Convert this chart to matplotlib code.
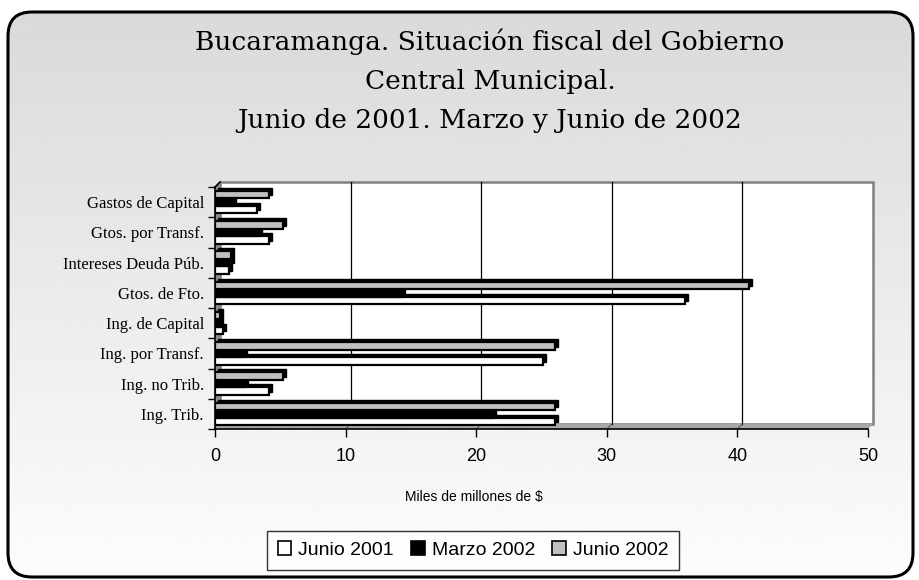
import numpy as np
import matplotlib
matplotlib.use("Agg")
import matplotlib.pyplot as plt
from matplotlib.patches import Rectangle, Polygon, FancyBboxPatch, Patch

# data (miles de millones de $), bottom category first
categorias = ["Ing. Trib.", "Ing. no Trib.", "Ing. por Transf.", "Ing. de Capital",
              "Gtos. de Fto.", "Intereses Deuda Púb.", "Gtos. por Transf.", "Gastos de Capital"]
junio_2001 = [26.0, 4.1, 25.1, 0.6, 36.0, 1.1, 4.1, 3.2]
marzo_2002 = [21.3, 2.3, 2.2, 0.4, 14.3, 1.2, 3.4, 1.4]
junio_2002 = [26.0, 5.2, 26.0, 0.4, 40.9, 1.2, 5.2, 4.1]
series = ["Junio 2001", "Marzo 2002", "Junio 2002"]
colores = ["#ffffff", "#000000", "#c0c0c0"]
titulo = ["Bucaramanga. Situación fiscal del Gobierno",
          "Central Municipal.",
          "Junio de 2001. Marzo y Junio de 2002"]

W, H = 920, 580
fig = plt.figure(figsize=(W / 100, H / 100), dpi=100)
fig.patch.set_facecolor("white")

# background: gradient inside a rounded frame
bg = fig.add_axes([0, 0, 1, 1], zorder=-5)
bg.set_xlim(0, W)
bg.set_ylim(0, H)
bg.axis("off")
grad = np.linspace(0.99, 0.85, 256).reshape(-1, 1)
im = bg.imshow(grad, cmap="gray", vmin=0, vmax=1, extent=[0, W, 0, H],
               origin="lower", aspect="auto")
frame = FancyBboxPatch((8, 3), 905, 565, boxstyle="round,pad=0,rounding_size=24",
                       facecolor="none", edgecolor="black", linewidth=2.2)
bg.add_patch(frame)
im.set_clip_path(frame)

# title
for k, (linea, yb) in enumerate(zip(titulo, [50, 89, 128])):
    fig.text(490 / W, 1 - yb / H, linea, ha="center", va="baseline",
             fontsize=19, family="DejaVu Serif")

# main axes (front plane)
x0, x1, yb0, yt0 = 215, 868, 429, 187
ax = fig.add_axes([x0 / W, 1 - yb0 / H, (x1 - x0) / W, (yb0 - yt0) / H])
ax.set_xlim(0, 50)
ax.set_ylim(-0.5, 7.5)
ax.patch.set_alpha(0)

dx = 50 * 5 / (x1 - x0)
dy = 8 * 5 / (yb0 - yt0)

# walls
ax.add_patch(Rectangle((dx, -0.5 + dy), 50, 8, facecolor="white", edgecolor="#808080",
                       linewidth=1.8, clip_on=False, zorder=0))
ax.add_patch(Polygon([(0, -0.5), (0, 7.5), (dx, 7.5 + dy), (dx, -0.5 + dy)],
                     closed=True, facecolor="#8c8c8c", edgecolor="none", clip_on=False, zorder=0.5))
ax.add_patch(Polygon([(0, -0.5), (50, -0.5), (50 + dx, -0.5 + dy), (dx, -0.5 + dy)],
                     closed=True, facecolor="#a8a8a8", edgecolor="none", clip_on=False, zorder=0.5))
for gx in [10, 20, 30, 40]:
    ax.plot([gx + dx, gx + dx], [-0.5 + dy, 7.5 + dy], color="black", lw=0.9,
            clip_on=False, zorder=0.6)
    ax.plot([gx, gx + dx], [-0.5, -0.5 + dy], color="#606060", lw=0.8,
            clip_on=False, zorder=0.6)
ax.plot([0, dx], [7.5, 7.5 + dy], color="black", lw=1.2, clip_on=False, zorder=0.7)

# bars with a little depth
y = np.arange(len(categorias))
h = 0.25
sx = 50 * 3 / (x1 - x0)
sy = 8 * 3 / (yb0 - yt0)
datos = [junio_2001, marzo_2002, junio_2002]
for j, (vals, col) in enumerate(zip(datos, colores)):
    off = (j - 1) * h
    ax.barh(y + off + sy, vals, left=sx, height=h, color="black", edgecolor="black",
            linewidth=1.0, zorder=2)
for j, (vals, col) in enumerate(zip(datos, colores)):
    off = (j - 1) * h
    ax.barh(y + off, vals, height=h, color=col, edgecolor="black", linewidth=1.6, zorder=3)

# axes lines and ticks
for s in ["top", "right"]:
    ax.spines[s].set_visible(False)
ax.spines["left"].set_linewidth(1.2)
ax.spines["bottom"].set_linewidth(1.2)
ax.spines["left"].set_zorder(4)
ax.spines["bottom"].set_zorder(4)

ax.set_yticks(y)
ax.set_yticklabels(categorias, family="Liberation Serif", fontsize=12)
ax.set_yticks(np.arange(-0.5, 8, 1), minor=True)
ax.tick_params(axis="y", which="major", length=0, pad=8)
ax.tick_params(axis="y", which="minor", length=5, width=1, direction="out")

ax.set_xticks([0, 10, 20, 30, 40, 50])
ax.set_xticklabels(["0", "10", "20", "30", "40", "50"], family="Liberation Sans", fontsize=13)
ax.tick_params(axis="x", length=6, width=1, direction="out", pad=8)

fig.text(474 / W, 1 - 497 / H, "Miles de millones de $", ha="center", va="center",
         fontsize=10, family="Liberation Sans")

handles = [Patch(facecolor=c, edgecolor="black", linewidth=1.2) for c in colores]
leg = fig.legend(handles, series, loc="center", bbox_to_anchor=(473 / W, 1 - 550 / H),
                 ncol=3, frameon=True, fancybox=False, edgecolor="black",
                 prop={"family": "Liberation Sans", "size": 14},
                 handlelength=0.7, handleheight=0.7, handletextpad=0.35,
                 columnspacing=0.9, borderpad=0.55, borderaxespad=0)
leg.get_frame().set_linewidth(1.0)
leg.get_frame().set_facecolor("white")

fig.savefig("out.png", dpi=100)
